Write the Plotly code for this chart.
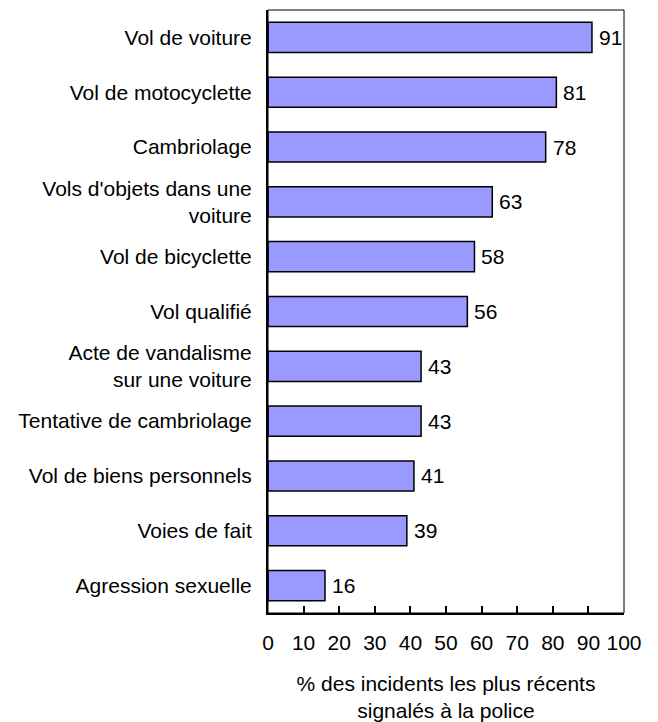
import plotly.graph_objects as go

categories = [
    "Vol de voiture",
    "Vol de motocyclette",
    "Cambriolage",
    "Vols d'objets dans une<br>voiture",
    "Vol de bicyclette",
    "Vol qualifié",
    "Acte de vandalisme<br>sur une voiture",
    "Tentative de cambriolage",
    "Vol de biens personnels",
    "Voies de fait",
    "Agression sexuelle",
]
values = [91, 81, 78, 63, 58, 56, 43, 43, 41, 39, 16]
x_ticks = [0, 10, 20, 30, 40, 50, 60, 70, 80, 90, 100]
x_title = "% des incidents les plus récents<br>signalés à la police"

FONT = "Liberation Sans, Arial, sans-serif"
FS = 21

fig = go.Figure(go.Bar(
    x=values,
    y=categories,
    orientation="h",
    marker=dict(color="#9999FF", line=dict(color="black", width=1.5)),
    width=0.55,
    cliponaxis=False,
))

annotations = [
    dict(x=v, y=c, xref="x", yref="y", text=str(v), showarrow=False,
         xanchor="left", yanchor="middle", xshift=5,
         font=dict(family=FONT, size=FS, color="black"))
    for c, v in zip(categories, values)
]

fig.update_layout(
    width=650, height=714,
    margin=dict(l=260, r=34, t=2, b=106),
    plot_bgcolor="white", paper_bgcolor="white",
    font=dict(family=FONT, size=FS, color="black"),
    showlegend=False,
    annotations=annotations,
    xaxis=dict(
        range=[0, 100], tickvals=x_ticks, ticks="inside", ticklen=7,
        tickcolor="black", tickwidth=1.5, showgrid=False, zeroline=False,
        showline=True, linecolor="black", linewidth=2,
        tickfont=dict(size=FS),
        ticklabelstandoff=10,
        title=dict(text=x_title, font=dict(size=FS), standoff=24),
    ),
    yaxis=dict(
        autorange="reversed", showgrid=False, zeroline=False,
        showline=True, linecolor="black", linewidth=2, ticks="",
        ticklabelstandoff=10,
        tickfont=dict(size=FS),
    ),
    shapes=[dict(type="rect", xref="paper", yref="paper", x0=0, x1=1, y0=0, y1=1,
                 line=dict(color="black", width=1))],
)

fig.write_html("out.html")
